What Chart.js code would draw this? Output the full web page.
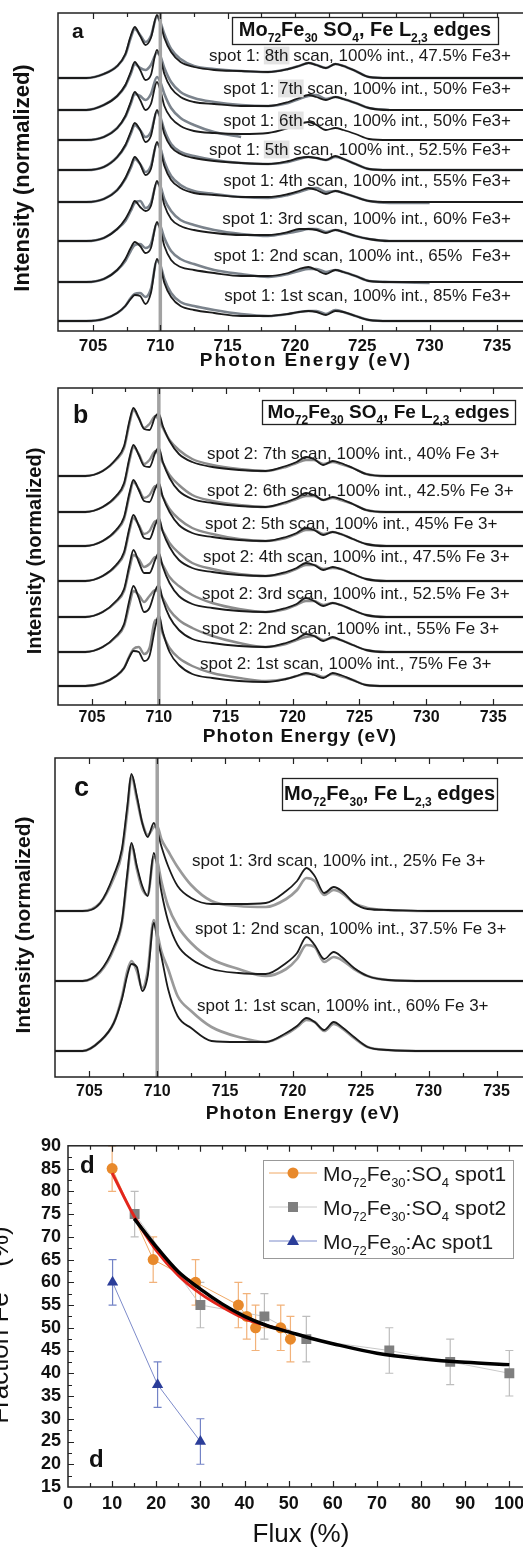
<!DOCTYPE html>
<html>
<head>
<meta charset="utf-8">
<script src="https://cdn.jsdelivr.net/npm/chart.js@4.4.1/dist/chart.umd.min.js"></script>
<style>
html, body { margin: 0; padding: 0; background: #fff; overflow: hidden; width: 523px; height: 1552px; }
canvas { position: absolute; left: 0; }
</style>
</head>
<body>
<canvas id="panelA" width="545" height="378" style="top:0"></canvas>
<canvas id="panelB" width="545" height="372" style="top:378px"></canvas>
<canvas id="panelC" width="545" height="378" style="top:750px"></canvas>
<canvas id="panelD" width="545" height="424" style="top:1128px"></canvas>
<script>
const FONT = "'Liberation Sans', Arial, Helvetica, sans-serif";

// shared photon energy grid (eV) of the Fe L2,3 spectra
const energy = [702.4, 704.5, 705.8, 706.8, 707.4, 707.8, 708.1, 708.5, 708.9, 709.3, 709.75, 710.0, 710.3, 710.8, 711.5,
    712.5, 714, 716, 718, 719.5, 720.3, 721.0, 721.6, 722.3, 723.0, 723.6, 724.5, 725.5, 727, 730, 738.5];
const edgeLine = 710;
const energyTicks = [705, 710, 715, 720, 725, 730, 735];

// panel a: spot 1, Mo72Fe30 SO4 (intensity in arbitrary units above each baseline)
const aOffsets = [253, 221, 191, 161, 129, 90, 49, 10];
const aLabels = ['8th', '7th', '6th', '5th', '4th', '3rd', '2nd', '1st'];
const aFe3 = ['47.5%', '50%', '50%', '52.5%', '55%', '60%', '65% ', '85%'];
const a8Black = [0, 0, 4, 12, 24, 42, 51, 42, 33, 40, 63, 55, 40, 26, 16, 11, 8, 7, 6, 9, 12, 15, 13, 10, 14, 12, 7, 1, 0, 0, 0];
const a8Gray = [0, 0, 4, 12, 23, 40, 49, 43, 36, 42, 61, 56, 44, 29, 19, 12, 9, 7, 6, 9, 12, 15, 13, 10, 14, 12, 7, 1, 0, 0, 0];
const a7Black = [0, 0, 5, 14, 25, 38, 48, 40, 30, 35, 60, 52, 36, 22, 13, 8, 6, 4, 4, 8, 12, 15, 13, 10, 13, 11, 7, 2, 0, 0, 0];
const a7Gray = [0, 0, 5, 14, 24, 36, 46, 42, 40, 45, 57, 54, 42, 28, 18, 12, 8, 5, 4, 7, 11, 14, 15, 11, 13, 11, 7, 2, 0, null, null];
const a6Black = [0, 0, 3, 12, 24, 38, 48, 40, 30, 36, 58, 50, 34, 22, 14, 9, 7, 6, 7, 12, 16, 18, 15, 10, 12, 10, 6, 1, 0, 0, 0];
const a6Gray = [0, 0, 3, 12, 23, 36, 46, 44, 40, 46, 63, 58, 46, 32, 22, 15, 8, 3, null, null, null, null, null, null, null, null, null, null, null, null, null];
const a5Black = [0, 0, 3, 13, 25, 38, 47, 40, 28, 34, 60, 52, 36, 23, 16, 12, 9, 7, 6, 9, 12, 13, 12, 10, 14, 11, 6, 1, 0, 0, 0];
const a5Gray = [0, 0, 3, 13, 24, 36, 45, 40, 33, 38, 58, 53, 40, 26, 18, 14, 10, 7, 6, 8, 11, 13, 12, 10, 13, 11, 6, 1, 0, 0, 0];
const a4Black = [0, 0, 3, 12, 24, 36, 45, 38, 27, 33, 60, 52, 36, 22, 14, 9, 7, 5, 5, 8, 11, 14, 12, 8, 11, 9, 5, 1, 0, 0, 0];
const a4Gray = [0, 0, 3, 12, 23, 34, 43, 38, 30, 36, 58, 54, 40, 26, 17, 11, 8, 5, 4, 7, 10, 13, 14, 10, 11, 9, 5, 1, -1, -1, null];
const a3Black = [0, 0, 3, 12, 22, 32, 40, 34, 30, 35, 60, 52, 36, 22, 15, 11, 8, 6, 6, 9, 12, 12, 11, 8, 11, 9, 5, 2, 0, 0, 0];
const a3Gray = [0, 0, 3, 12, 20, 30, 38, 40, 33, 38, 58, 55, 42, 30, 21, 16, 11, 7, 5, 8, 10, 12, 12, 9, 11, 9, 5, 2, 0, 0, 0];
const a2Black = [0, 0, 3, 12, 23, 34, 40, 36, 29, 34, 60, 52, 36, 22, 15, 12, 9, 6, 6, 9, 13, 15, 12, 8, 12, 10, 6, 1, 0, 0, 0];
const a2Gray = [0, 0, 3, 12, 21, 31, 37, 38, 34, 38, 58, 56, 44, 31, 23, 18, 12, 8, 5, 8, 11, 13, 13, 10, 12, 10, 6, 1, 0, -1, null];
const a1Black = [0, 0, 2, 8, 15, 22, 26, 25, 17, 28, 62, 55, 38, 24, 15, 11, 8, 5, 5, 7, 9, 10, 9, 6, 10, 9, 5, 1, 0, 0, 0];
const a1Gray = [0, 0, 2, 8, 15, 23, 27, 28, 24, 32, 60, 56, 42, 28, 19, 15, 11, 7, 5, 7, 9, 10, 10, 7, 11, 9, 5, 1, 0, 0, 0];

// panel b: spot 2, Mo72Fe30 SO4
const bOffsets = [229, 193, 159, 124, 88, 53, 19];
const bLabels = ['7th', '6th', '5th', '4th', '3rd', '2nd', '1st'];
const bFe3 = ['40%', '42.5%', '45%', '47.5%', '52.5%', '55%', '75%'];
const b7Black = [0, 0, 5, 17, 30, 55, 68, 58, 47, 46, 60, 62, 50, 35, 22, 14, 9, 6, 5, 10, 14, 19, 17, 11, 15, 13, 8, 2, 0, 0, 0];
const b7Gray = [0, 0, 5, 16, 28, 52, 66, 58, 48, 52, 60, 56, 48, 36, 26, 17, 11, 7, 5, 9, 13, 16, 16, 12, 14, 12, 8, 2, 0, 0, 0];
const b6Black = [0, 0, 5, 16, 29, 54, 67, 57, 46, 45, 60, 64, 50, 34, 21, 13, 9, 6, 5, 10, 14, 19, 17, 12, 15, 13, 8, 2, 0, 0, 0];
const b6Gray = [0, 0, 5, 15, 27, 51, 65, 58, 48, 52, 61, 57, 49, 37, 27, 17, 11, 7, 5, 9, 13, 16, 16, 12, 14, 12, 8, 2, 0, 0, 0];
const b5Black = [0, 0, 5, 16, 29, 53, 66, 56, 45, 44, 58, 63, 49, 34, 21, 13, 9, 6, 5, 9, 13, 18, 16, 11, 14, 12, 7, 2, 0, 0, 0];
const b5Gray = [0, 0, 5, 15, 27, 50, 64, 57, 48, 51, 60, 57, 49, 37, 27, 18, 12, 7, 5, 8, 12, 16, 16, 12, 14, 12, 7, 2, 0, 0, 0];
const b4Black = [0, 0, 5, 16, 29, 53, 66, 55, 43, 42, 57, 63, 49, 34, 21, 13, 9, 6, 5, 9, 13, 18, 16, 11, 14, 12, 7, 2, 0, 0, 0];
const b4Gray = [0, 0, 5, 15, 27, 50, 63, 56, 47, 50, 60, 57, 50, 38, 28, 18, 12, 7, 5, 8, 12, 16, 16, 12, 13, 12, 7, 2, 0, 0, 0];
const b3Black = [0, 0, 5, 16, 28, 52, 67, 55, 44, 44, 58, 64, 50, 34, 21, 13, 9, 6, 5, 9, 13, 19, 16, 11, 14, 12, 7, 2, 0, 0, 0];
const b3Gray = [0, 0, 5, 15, 26, 48, 62, 58, 50, 53, 60, 58, 52, 40, 31, 22, 14, 8, 5, 8, 12, 16, 16, 12, 14, 12, 7, 2, 0, 0, 0];
const b2Black = [0, 0, 5, 16, 28, 52, 66, 54, 40, 44, 62, 67, 52, 35, 22, 13, 9, 6, 5, 9, 13, 18, 16, 11, 15, 12, 7, 2, 0, 0, 0];
const b2Gray = [0, 0, 5, 15, 26, 47, 61, 57, 50, 56, 62, 60, 54, 42, 32, 24, 16, 9, 5, 8, 12, 15, 16, 12, 14, 12, 7, 2, 0, 0, 0];
const b1Black = [0, 0, 3, 10, 18, 29, 35, 34, 25, 30, 60, 71, 54, 34, 21, 12, 8, 5, 4, 7, 10, 13, 11, 8, 13, 11, 6, 1, 0, 0, 0];
const b1Gray = [0, 0, 3, 10, 18, 30, 37, 39, 32, 38, 66, 64, 52, 38, 28, 20, 13, 8, 5, 7, 10, 12, 12, 9, 12, 10, 6, 1, 0, 0, 0];

// panel c: spot 1, Mo72Fe30 (Ac)
const cOffsets = [166, 96, 26];
const cLabels = ['3rd', '2nd', '1st'];
const cFe3 = ['25%', '37.5%', '60%'];
const c3Black = [0, 0, 8, 36, 62, 105, 137, 115, 88, 74, 88, 80, 65, 45, 25, 13, 7, 7, 8, 20, 30, 43, 35, 18, 24, 20, 8, 2, 1, 0, 0];
const c3Gray = [0, 0, 8, 33, 58, 100, 135, 112, 88, 76, 84, 85, 72, 60, 44, 26, 10, 5, 4, 12, 21, 33, 30, 16, 21, 18, 8, 3, 1, 0, 0];
const c2Black = [0, 0, 10, 34, 60, 108, 138, 115, 95, 85, 128, 115, 90, 60, 36, 22, 12, 8, 7, 18, 28, 44, 36, 22, 29, 24, 13, 5, 1, 0, 0];
const c2Gray = [0, 0, 9, 32, 58, 104, 136, 112, 92, 86, 124, 120, 100, 75, 55, 38, 22, 12, 5, 12, 22, 36, 34, 19, 24, 21, 12, 5, 1, 0, 0];
const c1Black = [0, 0, 10, 28, 52, 76, 87, 84, 60, 75, 128, 112, 95, 62, 35, 23, 10, 9, 9, 18, 25, 33, 29, 21, 29, 24, 14, 4, 1, 0, 0];
const c1Gray = [0, 0, 10, 28, 54, 80, 90, 80, 63, 80, 131, 118, 100, 82, 55, 40, 24, 14, 9, 17, 24, 31, 29, 20, 27, 23, 13, 4, 1, 0, 0];

// panel d: Fe3+ fraction vs flux
const fluxSpot1 = [10, 19.3, 28.9, 38.6, 40.5, 42.5, 48.2, 50.4];
const fe3Spot1 = [85, 65, 60, 55, 52.5, 50, 50, 47.5];
const errSpot1 = [5, 5, 5, 5, 5, 5, 5, 5];
const fluxSpot2 = [15.1, 30, 44.5, 54, 72.8, 86.6, 100];
const fe3Spot2 = [75, 55, 52.5, 47.5, 45, 42.5, 40];
const errSpot2 = [5, 5, 5, 5, 5, 5, 5];
const fluxAc = [10.1, 20.3, 30];
const fe3Ac = [60, 37.5, 25];
const errAc = [5, 5, 5];
const fitAllFlux = [15, 20, 25, 30, 35, 40, 45, 50, 55, 60, 70, 80, 90, 100];
const fitAllFe3 = [74, 67.8, 62.3, 58.5, 55.2, 52.5, 50.5, 49.1, 47.7, 46.5, 44.4, 43.2, 42.4, 41.9];
const fitSpot1Flux = [10, 15, 20, 25, 30, 35, 40, 45, 50.5];
const fitSpot1Fe3 = [84, 74.5, 67, 61.5, 57.5, 54.5, 52, 50.5, 49];
const fluxTicks = [0, 10, 20, 30, 40, 50, 60, 70, 80, 90, 100];
const fe3Ticks = [15, 20, 25, 30, 35, 40, 45, 50, 55, 60, 65, 70, 75, 80, 85, 90];

// parts: [text, kind] with kind '' | 'sub' | 'sup' | 'hl'
function drawRich(ctx, x, y, parts, size, weight, color, align) {
    const small = Math.round(size * 0.62);
    const fontFor = (k) => `${weight} ${k === 'sub' || k === 'sup' ? small : size}px ${FONT}`;
    let w = 0;
    parts.forEach(([t, k]) => {
        ctx.font = fontFor(k);
        w += ctx.measureText(t).width;
    });
    let cx = align === 'right' ? x - w : align === 'center' ? x - w / 2 : x;
    ctx.textAlign = 'left';
    ctx.textBaseline = 'alphabetic';
    parts.forEach(([t, k]) => {
        ctx.font = fontFor(k);
        const tw = ctx.measureText(t).width;
        let dy = 0;
        if (k === 'sub') dy = size * 0.3;
        if (k === 'sup') dy = -size * 0.4;
        if (k === 'hl') {
            ctx.fillStyle = '#e3e3e3';
            ctx.fillRect(cx - 1, y - size * 0.85, tw + 2, size * 1.05);
        }
        ctx.fillStyle = color;
        ctx.fillText(t, cx, y + dy);
        cx += tw;
    });
    return w;
}

function textBox(ctx, box, parts, size, baseline) {
    ctx.fillStyle = '#fff';
    ctx.fillRect(box[0], box[1], box[2] - box[0], box[3] - box[1]);
    ctx.strokeStyle = '#222';
    ctx.lineWidth = 1.3;
    ctx.strokeRect(box[0] + 0.5, box[1] + 0.5, box[2] - box[0], box[3] - box[1]);
    drawRich(ctx, (box[0] + box[2]) / 2, baseline, parts, size, 'bold', '#111', 'center');
}

function spectraDeco(p) {
    return {
        id: 'spectraDeco',
        afterDatasetsDraw(chart) {
            const { ctx, chartArea: a, scales: { x } } = chart;
            ctx.save();
            ctx.strokeStyle = '#222';
            ctx.lineWidth = 1.5;
            ctx.strokeRect(a.left, a.top, a.right - a.left, a.bottom - a.top);
            ctx.lineWidth = 1.2;
            ctx.beginPath();
            for (let v = 702.5; v < x.max; v += 2.5) {
                if (v < x.min + 0.5) continue;
                const px = Math.round(x.getPixelForValue(v)) + 0.5;
                const len = v % 5 === 0 ? 6 : 4;
                ctx.moveTo(px, a.bottom); ctx.lineTo(px, a.bottom - len);
                ctx.moveTo(px, a.top); ctx.lineTo(px, a.top + len);
            }
            ctx.stroke();
            ctx.restore();
        },
        afterDraw(chart) {
            const { ctx } = chart;
            ctx.save();
            // axis titles
            ctx.fillStyle = '#111';
            ctx.font = `bold ${p.xTitleSize}px ${FONT}`;
            ctx.letterSpacing = p.xTitleSpacing + 'px';
            ctx.textAlign = 'center';
            ctx.textBaseline = 'middle';
            ctx.fillText('Photon Energy (eV)', p.xTitlePos[0], p.xTitlePos[1]);
            ctx.letterSpacing = '0px';
            ctx.save();
            ctx.translate(p.yTitlePos[0], p.yTitlePos[1]);
            ctx.rotate(-Math.PI / 2);
            ctx.font = `bold ${p.yTitleSize}px ${FONT}`;
            ctx.fillText('Intensity (normalized)', 0, 0);
            ctx.restore();
            // panel letter
            ctx.font = `bold ${p.letterSize}px ${FONT}`;
            ctx.textAlign = 'left';
            ctx.textBaseline = 'alphabetic';
            ctx.fillText(p.letter, p.letterPos[0], p.letterPos[1]);
            // title box
            textBox(ctx, p.box, p.boxText, p.boxSize, p.boxBaseline);
            // scan labels
            p.labels.forEach((parts, i) => {
                const pos = p.labelPos[i];
                drawRich(ctx, pos[0], pos[1], parts, p.labelSize, 'normal', '#1a1a1a', p.labelAlign);
            });
            ctx.restore();
        },
    };
}

function spectraChart(id, p) {
    const datasets = [{
        data: [{ x: edgeLine, y: 0 }, { x: edgeLine, y: p.ymax }],
        borderColor: '#a2a2a2',
        borderWidth: 3.5,
        pointRadius: 0,
        order: 0,
    }];
    p.spectra.forEach((s) => {
        datasets.push({
            data: energy.map((e, i) => ({ x: e, y: s.gray[i] === null ? null : s.off + s.gray[i] })),
            borderColor: p.grayColor,
            borderWidth: p.grayWidth,
            pointRadius: 0,
            cubicInterpolationMode: 'monotone',
            order: 2,
        });
        datasets.push({
            data: energy.map((e, i) => ({ x: e, y: s.off + s.black[i] })),
            borderColor: '#1b1b1b',
            borderWidth: 1.8,
            pointRadius: 0,
            cubicInterpolationMode: 'monotone',
            order: 1,
        });
    });
    return new Chart(document.getElementById(id), {
        type: 'line',
        data: { datasets },
        options: {
            responsive: false,
            animation: false,
            events: [],
            layout: { padding: { left: p.left, top: p.top, right: p.right, bottom: 0 } },
            plugins: { legend: { display: false }, tooltip: { enabled: false } },
            scales: {
                x: {
                    type: 'linear',
                    min: p.xmin,
                    max: p.xmax,
                    grid: { display: false, drawTicks: false },
                    border: { display: false },
                    afterBuildTicks: (s) => { s.ticks = energyTicks.map((v) => ({ value: v })); },
                    afterFit: (s) => { s.height = p.axisH; },
                    ticks: {
                        padding: p.tickPad,
                        color: '#111',
                        autoSkip: false,
                        maxRotation: 0,
                        font: { family: FONT, size: p.tickSize, weight: 'bold' },
                    },
                },
                y: { display: false, min: 0, max: p.ymax },
            },
        },
        plugins: [spectraDeco(p)],
    });
}

const titleSO4 = [['Mo', ''], ['72', 'sub'], ['Fe', ''], ['30', 'sub'], [' SO', ''], ['4', 'sub'], [', Fe L', ''], ['2,3', 'sub'], [' edges', '']];
const titleAc = [['Mo', ''], ['72', 'sub'], ['Fe', ''], ['30', 'sub'], [', Fe L', ''], ['2,3', 'sub'], [' edges', '']];

spectraChart('panelA', {
    left: 58, top: 13, right: 5, axisH: 47, tickPad: 5, tickSize: 17,
    xmin: 702.4, xmax: 738.2, ymax: 318,
    grayColor: '#7b838c', grayWidth: 2.6,
    spectra: [
        { off: aOffsets[0], black: a8Black, gray: a8Gray },
        { off: aOffsets[1], black: a7Black, gray: a7Gray },
        { off: aOffsets[2], black: a6Black, gray: a6Gray },
        { off: aOffsets[3], black: a5Black, gray: a5Gray },
        { off: aOffsets[4], black: a4Black, gray: a4Gray },
        { off: aOffsets[5], black: a3Black, gray: a3Gray },
        { off: aOffsets[6], black: a2Black, gray: a2Gray },
        { off: aOffsets[7], black: a1Black, gray: a1Gray },
    ],
    xTitleSize: 19, xTitleSpacing: 2, xTitlePos: [306, 361],
    yTitleSize: 22, yTitlePos: [23, 178],
    letter: 'a', letterSize: 21, letterPos: [72, 38],
    box: [232, 17, 498, 44], boxText: titleSO4, boxSize: 20, boxBaseline: 36,
    labels: aLabels.map((s, i) => [['spot 1: ', ''], [s, i < 4 ? 'hl' : ''], [` scan, 100% int., ${aFe3[i]} Fe3+`, '']]),
    labelPos: [[511, 61], [511, 94], [511, 126], [511, 155], [511, 186], [511, 224], [511, 261], [511, 301]],
    labelSize: 17, labelAlign: 'right',
});

spectraChart('panelB', {
    left: 58, top: 10, right: 5, axisH: 45, tickPad: 3, tickSize: 16,
    xmin: 702.46, xmax: 738.5, ymax: 317,
    grayColor: '#8c8c8c', grayWidth: 2.4,
    spectra: [
        { off: bOffsets[0], black: b7Black, gray: b7Gray },
        { off: bOffsets[1], black: b6Black, gray: b6Gray },
        { off: bOffsets[2], black: b5Black, gray: b5Gray },
        { off: bOffsets[3], black: b4Black, gray: b4Gray },
        { off: bOffsets[4], black: b3Black, gray: b3Gray },
        { off: bOffsets[5], black: b2Black, gray: b2Gray },
        { off: bOffsets[6], black: b1Black, gray: b1Gray },
    ],
    xTitleSize: 19, xTitleSpacing: 1, xTitlePos: [300, 359],
    yTitleSize: 20, yTitlePos: [35, 173],
    letter: 'b', letterSize: 25, letterPos: [73, 45],
    box: [262, 22, 515, 46], boxText: titleSO4, boxSize: 19, boxBaseline: 40,
    labels: bLabels.map((s, i) => [[`spot 2: ${s} scan, 100% int., ${bFe3[i]} Fe 3+`, '']]),
    labelPos: [[207, 81], [207, 118], [205, 151], [203, 184], [202, 221], [202, 256], [200, 291]],
    labelSize: 17, labelAlign: 'left',
});

spectraChart('panelC', {
    left: 55, top: 8, right: 5, axisH: 51, tickPad: 5, tickSize: 16,
    xmin: 702.47, xmax: 738.2, ymax: 319,
    grayColor: '#9a9a9a', grayWidth: 2.7,
    spectra: [
        { off: cOffsets[0], black: c3Black, gray: c3Gray },
        { off: cOffsets[1], black: c2Black, gray: c2Gray },
        { off: cOffsets[2], black: c1Black, gray: c1Gray },
    ],
    xTitleSize: 19, xTitleSpacing: 1, xTitlePos: [303, 364],
    yTitleSize: 21, yTitlePos: [24, 175],
    letter: 'c', letterSize: 27, letterPos: [74, 46],
    box: [282, 28, 497, 60], boxText: titleAc, boxSize: 20, boxBaseline: 50,
    labels: cLabels.map((s, i) => [[`spot 1: ${s} scan, 100% int., ${cFe3[i]} Fe 3+`, '']]),
    labelPos: [[192, 116], [195, 184], [197, 261]],
    labelSize: 17, labelAlign: 'left',
});

// ---- panel d ----
const seriesD = [
    { label: [['Mo', ''], ['72', 'sub'], ['Fe', ''], ['30', 'sub'], [':SO', ''], ['4', 'sub'], [' spot1', '']], line: '#f0a865', mark: '#e8892b', err: '#f2b27a', style: 'circle', radius: 5.5, xs: fluxSpot1, ys: fe3Spot1, es: errSpot1 },
    { label: [['Mo', ''], ['72', 'sub'], ['Fe', ''], ['30', 'sub'], [':SO', ''], ['4', 'sub'], [' spot2', '']], line: '#c8c8c8', mark: '#7f7f7f', err: '#bdbdbd', style: 'rect', radius: 7, xs: fluxSpot2, ys: fe3Spot2, es: errSpot2 },
    { label: [['Mo', ''], ['72', 'sub'], ['Fe', ''], ['30', 'sub'], [':Ac spot1', '']], line: '#7d8bca', mark: '#2b3d99', err: '#7383c6', style: 'triangle', radius: 6.5, xs: fluxAc, ys: fe3Ac, es: errAc },
];

function drawMarker(ctx, style, x, y, color) {
    ctx.fillStyle = color;
    ctx.beginPath();
    if (style === 'circle') ctx.arc(x, y, 5.5, 0, Math.PI * 2);
    else if (style === 'rect') ctx.rect(x - 5, y - 5, 10, 10);
    else { ctx.moveTo(x, y - 6.5); ctx.lineTo(x + 6, y + 4); ctx.lineTo(x - 6, y + 4); ctx.closePath(); }
    ctx.fill();
}

const fluxDeco = {
    id: 'fluxDeco',
    beforeDatasetsDraw(chart) {
        const { ctx, scales: { x, y } } = chart;
        ctx.save();
        ctx.lineWidth = 1.2;
        seriesD.forEach((s) => {
            ctx.strokeStyle = s.err;
            ctx.beginPath();
            s.xs.forEach((fx, i) => {
                const px = x.getPixelForValue(fx);
                const top = y.getPixelForValue(s.ys[i] + s.es[i]);
                const bot = y.getPixelForValue(s.ys[i] - s.es[i]);
                ctx.moveTo(px, top); ctx.lineTo(px, bot);
                ctx.moveTo(px - 4, top); ctx.lineTo(px + 4, top);
                ctx.moveTo(px - 4, bot); ctx.lineTo(px + 4, bot);
            });
            ctx.stroke();
        });
        ctx.restore();
    },
    afterDatasetsDraw(chart) {
        const { ctx, chartArea: a, scales: { x, y } } = chart;
        ctx.save();
        ctx.strokeStyle = '#222';
        ctx.lineWidth = 1.5;
        ctx.strokeRect(a.left, a.top, a.right - a.left, a.bottom - a.top);
        ctx.lineWidth = 1.2;
        ctx.beginPath();
        for (let v = 5; v <= 100; v += 5) {
            const px = Math.round(x.getPixelForValue(v)) + 0.5;
            const len = v % 10 === 0 ? 6 : 4;
            ctx.moveTo(px, a.bottom); ctx.lineTo(px, a.bottom - len);
            ctx.moveTo(px, a.top); ctx.lineTo(px, a.top + len);
        }
        for (let v = 17.5; v < 90; v += 2.5) {
            const py = Math.round(y.getPixelForValue(v)) + 0.5;
            const len = v % 5 === 0 ? 6 : 4;
            ctx.moveTo(a.left, py); ctx.lineTo(a.left + len, py);
        }
        ctx.stroke();
        ctx.restore();
    },
    afterDraw(chart) {
        const { ctx } = chart;
        ctx.save();
        // legend
        ctx.fillStyle = '#fff';
        ctx.fillRect(263, 32, 250, 98);
        ctx.strokeStyle = '#999';
        ctx.lineWidth = 1;
        ctx.strokeRect(263.5, 32.5, 250, 98);
        seriesD.forEach((s, i) => {
            const ry = 45 + i * 34;
            ctx.strokeStyle = s.line;
            ctx.lineWidth = 1;
            ctx.beginPath();
            ctx.moveTo(269, ry); ctx.lineTo(317, ry);
            ctx.stroke();
            drawMarker(ctx, s.style, 293, ry, s.mark);
            drawRich(ctx, 323, ry + 7.5, s.label, 21, 'normal', '#1a1a1a', 'left');
        });
        // panel letters
        ctx.fillStyle = '#111';
        ctx.font = `bold 24px ${FONT}`;
        ctx.textAlign = 'left';
        ctx.textBaseline = 'alphabetic';
        ctx.fillText('d', 80, 45);
        ctx.fillText('d', 89, 339);
        // axis titles
        ctx.font = `26px ${FONT}`;
        ctx.textAlign = 'center';
        ctx.textBaseline = 'middle';
        ctx.fillText('Flux (%)', 301, 407);
        ctx.save();
        ctx.translate(8, 197);
        ctx.rotate(-Math.PI / 2);
        drawRich(ctx, 0, 0, [['Fraction Fe', ''], ['3+', 'sup'], [' (%)', '']], 26, 'normal', '#111', 'center');
        ctx.restore();
        ctx.restore();
    },
};

const pts = (xs, ys) => xs.map((v, i) => ({ x: v, y: ys[i] }));

new Chart(document.getElementById('panelD'), {
    type: 'line',
    data: {
        datasets: [
            { data: pts(fitAllFlux, fitAllFe3), borderColor: '#000', borderWidth: 3.5, pointRadius: 0, cubicInterpolationMode: 'monotone', order: 0 },
            { data: pts(fitSpot1Flux, fitSpot1Fe3), borderColor: '#e3261c', borderWidth: 3, pointRadius: 0, cubicInterpolationMode: 'monotone', order: 1 },
            ...seriesD.map((s) => ({
                data: pts(s.xs, s.ys),
                borderColor: s.line,
                borderWidth: 1,
                pointStyle: s.style,
                pointRadius: s.radius,
                pointBackgroundColor: s.mark,
                pointBorderColor: s.mark,
                pointBorderWidth: 0,
                tension: 0,
                order: 2,
            })),
        ],
    },
    options: {
        responsive: false,
        animation: false,
        events: [],
        layout: { padding: { left: 0, top: 14, right: 18, bottom: 0 } },
        plugins: { legend: { display: false }, tooltip: { enabled: false } },
        scales: {
            x: {
                type: 'linear',
                min: 0,
                max: 104,
                grid: { display: false, drawTicks: false },
                border: { display: false },
                afterBuildTicks: (s) => { s.ticks = fluxTicks.map((v) => ({ value: v })); },
                afterFit: (s) => { s.height = 65; },
                ticks: { padding: 6, color: '#111', autoSkip: false, maxRotation: 0, font: { family: FONT, size: 18, weight: 'bold' } },
            },
            y: {
                type: 'linear',
                min: 15,
                max: 90,
                grid: { display: false, drawTicks: false },
                border: { display: false },
                afterBuildTicks: (s) => { s.ticks = fe3Ticks.map((v) => ({ value: v })); },
                afterFit: (s) => { s.width = 68; },
                ticks: { padding: 7, color: '#111', autoSkip: false, font: { family: FONT, size: 18, weight: 'bold' } },
            },
        },
    },
    plugins: [fluxDeco],
});
</script>
</body>
</html>
